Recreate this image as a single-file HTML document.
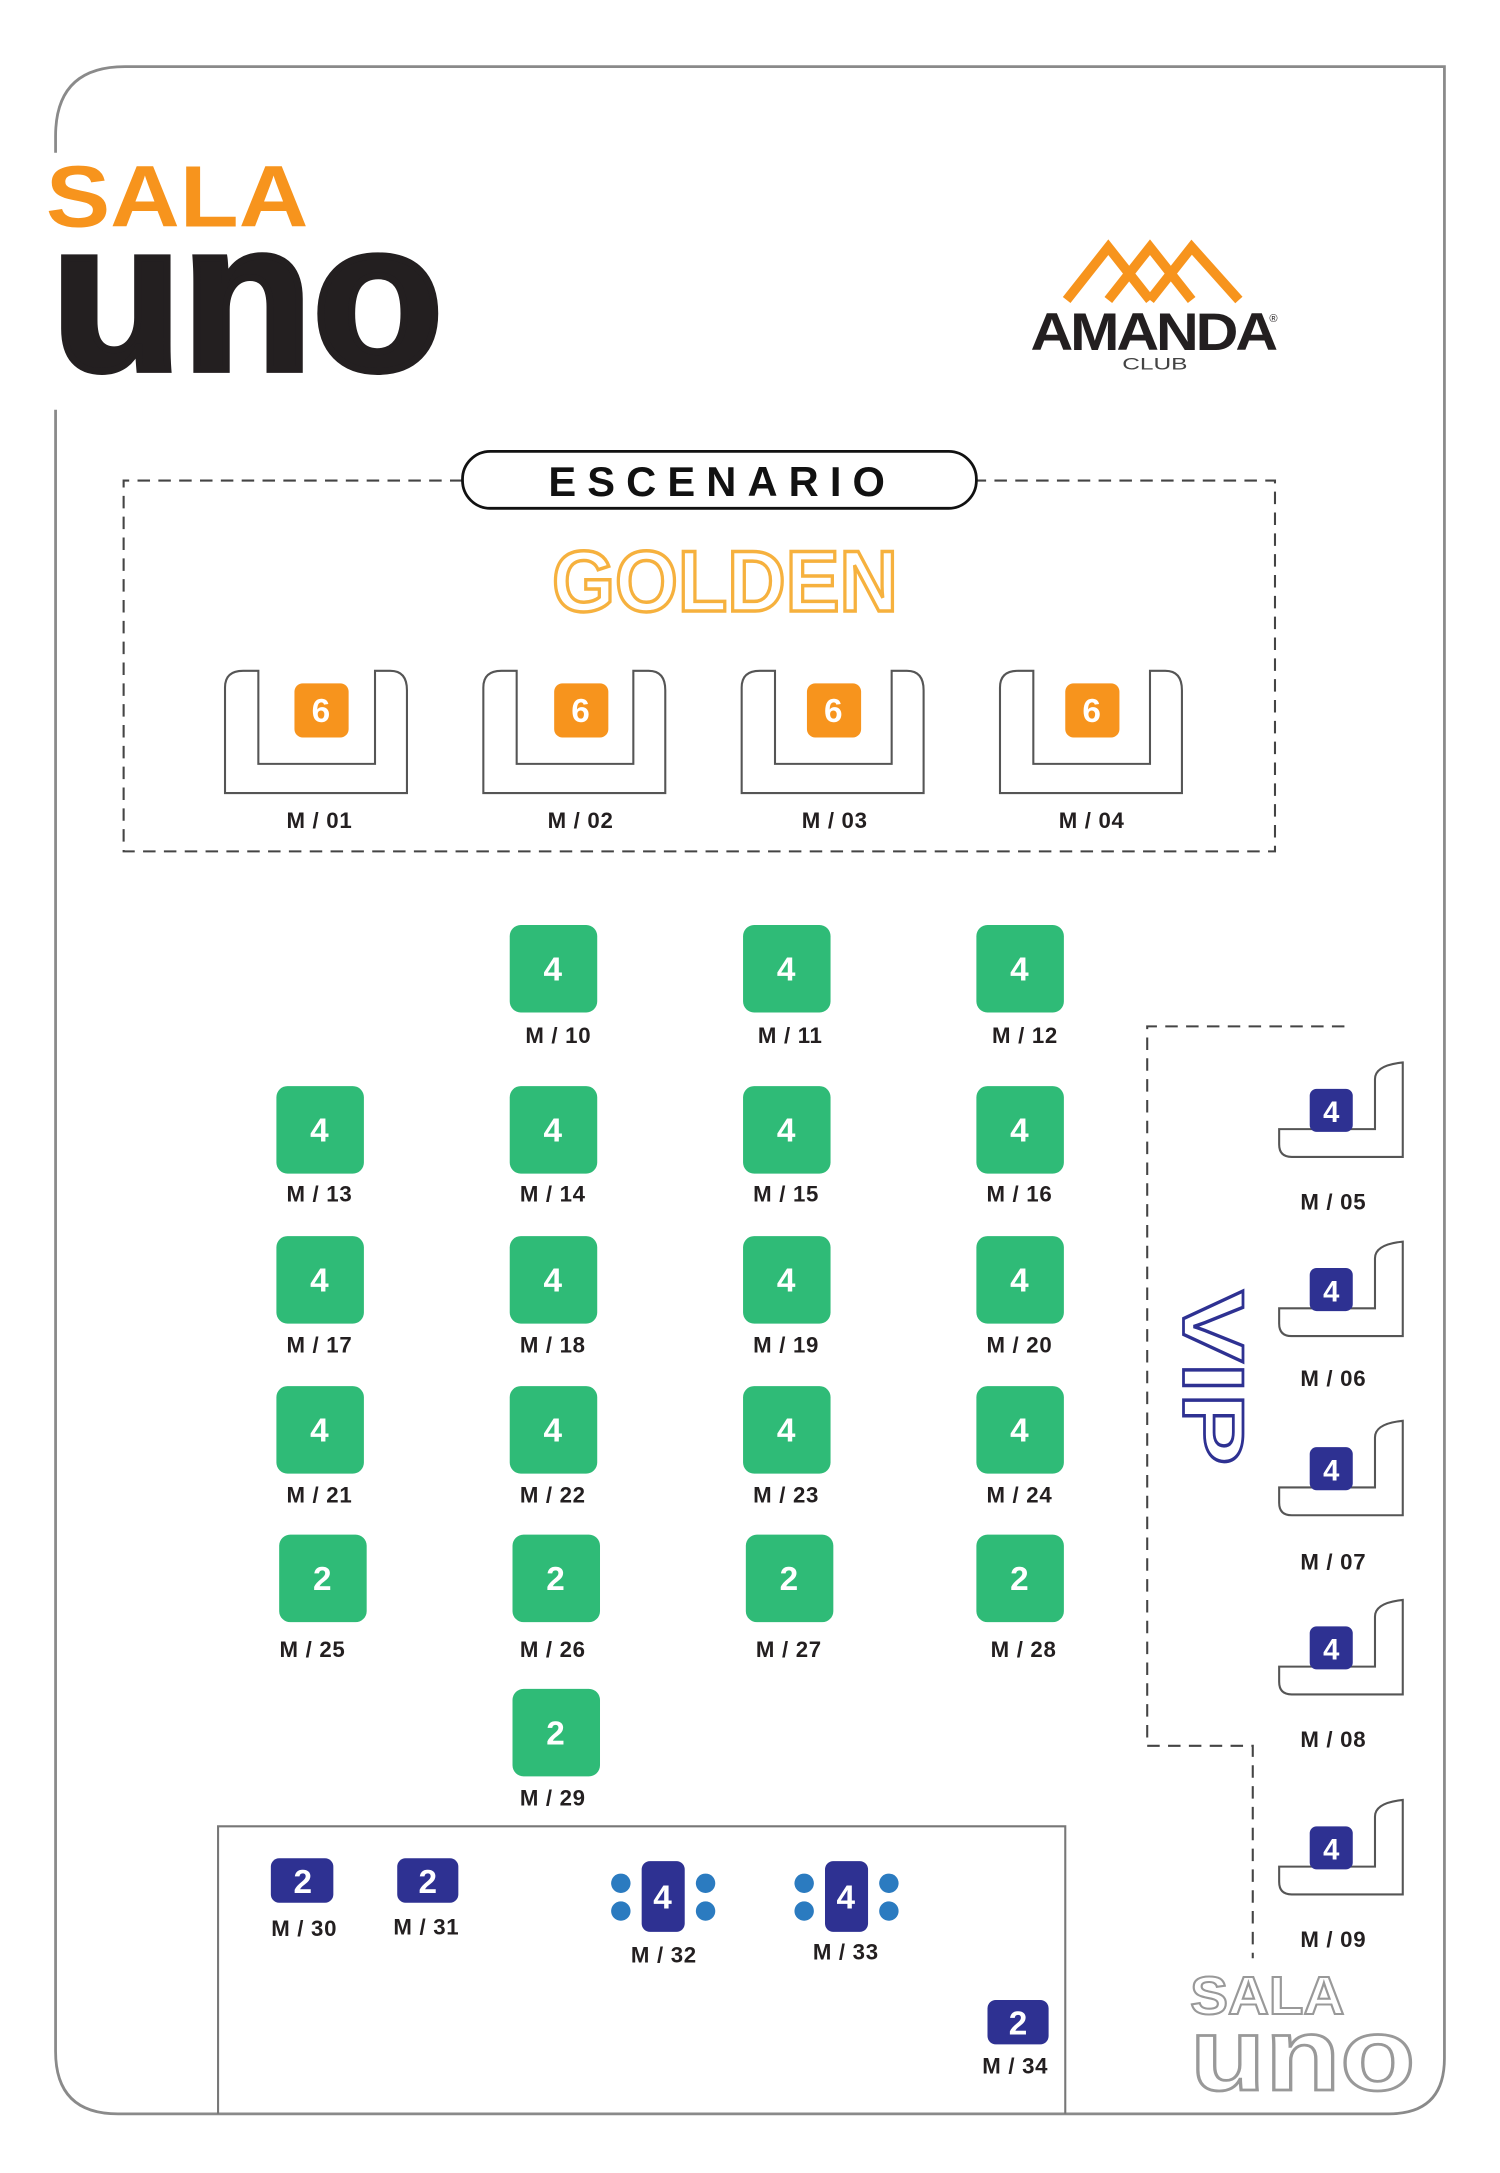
<!DOCTYPE html>
<html><head><meta charset="utf-8"><style>
html,body{margin:0;padding:0;background:#fff}
svg{display:block}
text{font-family:"Liberation Sans",sans-serif;font-weight:bold}
.lb{font-size:16px;fill:#231f20;text-anchor:middle;letter-spacing:0.5px}
.bn{font-size:24px;fill:#fff;text-anchor:middle}
</style></head><body>
<svg width="1500" height="2173" viewBox="0 0 1080 1564.6" xmlns="http://www.w3.org/2000/svg">
<path d="M40,110 L40,98 Q40,48 90,48 L1040,48 L1040,1482 Q1040,1522 1000,1522 L85,1522 Q40,1522 40,1477 L40,295" fill="none" stroke="#8a8a8a" stroke-width="2"/>
<text x="33" y="163" font-size="63" fill="#f7941d" textLength="189" lengthAdjust="spacingAndGlyphs">SALA</text>
<text x="37" y="266" font-size="152" fill="#231f20" textLength="282" lengthAdjust="spacingAndGlyphs" stroke="#231f20" stroke-width="5">uno</text>
<g fill="none" stroke="#f7941d" stroke-width="7" stroke-linejoin="miter">
<path d="M768,216 L798,178 L828,216"/>
<path d="M798,216 L828,178 L858,216"/>
<path d="M828,216 L858,178 L892,216"/>
</g>
<text x="742" y="252" font-size="38" fill="#231f20" textLength="176" lengthAdjust="spacingAndGlyphs" letter-spacing="-2">AMANDA</text>
<text x="914" y="232" font-size="8" fill="#231f20" style="font-weight:normal">®</text>
<text x="808" y="266" font-size="12" fill="#444" style="font-weight:normal" textLength="47" lengthAdjust="spacingAndGlyphs">CLUB</text>
<path d="M333,346 L89,346 L89,613 L918,613 L918,346 L703,346" fill="none" stroke="#444" stroke-width="1.5" stroke-dasharray="9,6"/>
<rect x="333" y="325" width="370" height="41" rx="20" fill="#fff" stroke="#111" stroke-width="2"/>
<text x="520" y="357" font-size="30" fill="#111" text-anchor="middle" letter-spacing="8">ESCENARIO</text>
<text x="522" y="440" font-size="62" fill="none" stroke="#f6b13e" stroke-width="2.5" text-anchor="middle" textLength="249" lengthAdjust="spacingAndGlyphs">GOLDEN</text>
<g id="sofa">
<path d="M162,571 L162,495 Q162,483 175,483 L186,483 L186,550 L270,550 L270,483 L281,483 Q293,483 293,497 L293,571 Z" fill="#fff" stroke="#555" stroke-width="1.5"/>
</g>
<use href="#sofa" x="186"/><use href="#sofa" x="372"/><use href="#sofa" x="558"/>
<g fill="#f7941d">
<rect x="212" y="492" width="39" height="39" rx="6"/><rect x="399" y="492" width="39" height="39" rx="6"/>
<rect x="581" y="492" width="39" height="39" rx="6"/><rect x="767" y="492" width="39" height="39" rx="6"/>
</g>
<text class="bn" x="231" y="520">6</text><text class="bn" x="418" y="520">6</text><text class="bn" x="600" y="520">6</text><text class="bn" x="786" y="520">6</text>
<text class="lb" x="230" y="596">M / 01</text><text class="lb" x="418" y="596">M / 02</text><text class="lb" x="601" y="596">M / 03</text><text class="lb" x="786" y="596">M / 04</text>
<g fill="#2fbb77">
<rect x="367" y="666" width="63" height="63" rx="8"/><rect x="535" y="666" width="63" height="63" rx="8"/><rect x="703" y="666" width="63" height="63" rx="8"/>
<rect x="199" y="782" width="63" height="63" rx="8"/><rect x="367" y="782" width="63" height="63" rx="8"/><rect x="535" y="782" width="63" height="63" rx="8"/><rect x="703" y="782" width="63" height="63" rx="8"/>
<rect x="199" y="890" width="63" height="63" rx="8"/><rect x="367" y="890" width="63" height="63" rx="8"/><rect x="535" y="890" width="63" height="63" rx="8"/><rect x="703" y="890" width="63" height="63" rx="8"/>
<rect x="199" y="998" width="63" height="63" rx="8"/><rect x="367" y="998" width="63" height="63" rx="8"/><rect x="535" y="998" width="63" height="63" rx="8"/><rect x="703" y="998" width="63" height="63" rx="8"/>
<rect x="201" y="1105" width="63" height="63" rx="8"/><rect x="369" y="1105" width="63" height="63" rx="8"/><rect x="537" y="1105" width="63" height="63" rx="8"/><rect x="703" y="1105" width="63" height="63" rx="8"/>
<rect x="369" y="1216" width="63" height="63" rx="8"/>
</g>
<text class="bn" x="398" y="706">4</text><text class="bn" x="566" y="706">4</text><text class="bn" x="734" y="706">4</text>
<text class="bn" x="230" y="822">4</text><text class="bn" x="398" y="822">4</text><text class="bn" x="566" y="822">4</text><text class="bn" x="734" y="822">4</text>
<text class="bn" x="230" y="930">4</text><text class="bn" x="398" y="930">4</text><text class="bn" x="566" y="930">4</text><text class="bn" x="734" y="930">4</text>
<text class="bn" x="230" y="1038">4</text><text class="bn" x="398" y="1038">4</text><text class="bn" x="566" y="1038">4</text><text class="bn" x="734" y="1038">4</text>
<text class="bn" x="232" y="1145">2</text><text class="bn" x="400" y="1145">2</text><text class="bn" x="568" y="1145">2</text><text class="bn" x="734" y="1145">2</text>
<text class="bn" x="400" y="1256">2</text>
<text class="lb" x="402" y="751">M / 10</text><text class="lb" x="569" y="751">M / 11</text><text class="lb" x="738" y="751">M / 12</text>
<text class="lb" x="230" y="865">M / 13</text><text class="lb" x="398" y="865">M / 14</text><text class="lb" x="566" y="865">M / 15</text><text class="lb" x="734" y="865">M / 16</text>
<text class="lb" x="230" y="974">M / 17</text><text class="lb" x="398" y="974">M / 18</text><text class="lb" x="566" y="974">M / 19</text><text class="lb" x="734" y="974">M / 20</text>
<text class="lb" x="230" y="1082">M / 21</text><text class="lb" x="398" y="1082">M / 22</text><text class="lb" x="566" y="1082">M / 23</text><text class="lb" x="734" y="1082">M / 24</text>
<text class="lb" x="225" y="1193">M / 25</text><text class="lb" x="398" y="1193">M / 26</text><text class="lb" x="568" y="1193">M / 27</text><text class="lb" x="737" y="1193">M / 28</text>
<text class="lb" x="398" y="1300">M / 29</text>
<path d="M968,739 L826,739 L826,1257 L902,1257 L902,1410" fill="none" stroke="#444" stroke-width="1.5" stroke-dasharray="9,6"/>
<text transform="translate(852,992) rotate(90)" x="0" y="0" font-size="62" fill="none" stroke="#2e3192" stroke-width="2" text-anchor="middle" textLength="126" lengthAdjust="spacingAndGlyphs">VIP</text>
<g id="vs">
<path d="M1010,765 L1010,833 L930,833 Q921,833 921,824 L921,813 L990,813 L990,777 Q990,767 1010,765 Z" fill="#fff" stroke="#555" stroke-width="1.5"/>
<rect x="943" y="784" width="31" height="31" rx="5" fill="#2e3192"/>
<text class="bn" x="958.5" y="808" style="font-size:21px">4</text>
</g>
<use href="#vs" y="129"/><use href="#vs" y="258"/><use href="#vs" y="387"/><use href="#vs" y="531"/>
<text class="lb" x="960" y="871">M / 05</text><text class="lb" x="960" y="998">M / 06</text><text class="lb" x="960" y="1130">M / 07</text><text class="lb" x="960" y="1258">M / 08</text><text class="lb" x="960" y="1402">M / 09</text>
<path d="M157,1522 L157,1315 L767,1315 L767,1522" fill="none" stroke="#777" stroke-width="1.5"/>
<g fill="#2e3192">
<rect x="195" y="1338" width="45" height="32" rx="6"/><rect x="286" y="1338" width="44" height="32" rx="6"/>
<rect x="462" y="1340" width="31" height="51" rx="6"/><rect x="594" y="1340" width="31" height="51" rx="6"/>
<rect x="711" y="1440" width="44" height="32" rx="6"/>
</g>
<g fill="#2b7bc0">
<circle cx="447" cy="1356" r="7"/><circle cx="447" cy="1376" r="7"/><circle cx="508" cy="1356" r="7"/><circle cx="508" cy="1376" r="7"/>
<circle cx="579" cy="1356" r="7"/><circle cx="579" cy="1376" r="7"/><circle cx="640" cy="1356" r="7"/><circle cx="640" cy="1376" r="7"/>
</g>
<text class="bn" x="218" y="1363">2</text><text class="bn" x="308" y="1363">2</text>
<text class="bn" x="477" y="1374">4</text><text class="bn" x="609" y="1374">4</text>
<text class="bn" x="733" y="1465">2</text>
<text class="lb" x="219" y="1394">M / 30</text><text class="lb" x="307" y="1393">M / 31</text>
<text class="lb" x="478" y="1413">M / 32</text><text class="lb" x="609" y="1411">M / 33</text>
<text class="lb" x="731" y="1493">M / 34</text>
<text x="857" y="1450" font-size="39" fill="none" stroke="#999" stroke-width="1.5" textLength="111" lengthAdjust="spacingAndGlyphs">SALA</text>
<text x="857" y="1505" font-size="74" fill="none" stroke="#999" stroke-width="2" textLength="162" lengthAdjust="spacingAndGlyphs">uno</text>
</svg>
</body></html>
